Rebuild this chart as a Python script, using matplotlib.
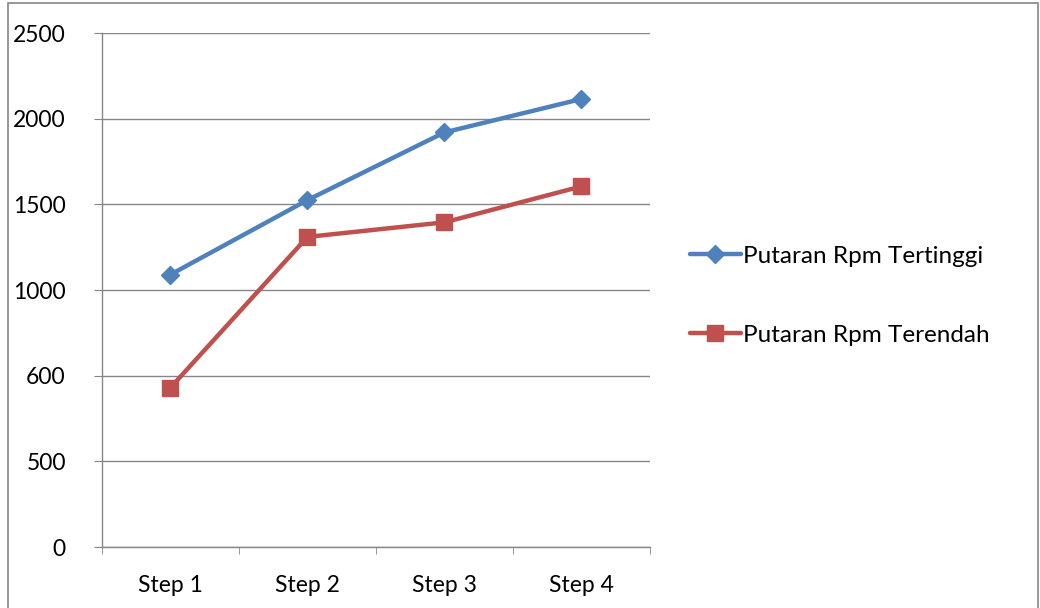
import numpy as np
import matplotlib.pyplot as plt
from matplotlib.patches import Rectangle

# ==============================
# DATA (in axis units; tick labels are as printed on the chart)
# ==============================

steps = ["Step 1", "Step 2", "Step 3", "Step 4"]
rpm_tertinggi = [1590, 2025, 2420, 2615]
rpm_terendah = [930, 1810, 1895, 2105]
y_ticks = [0, 500, 1000, 1500, 2000, 2500, 3000]
y_tick_labels = ["0", "500", "600", "1000", "1500", "2000", "2500"]

BLUE = "#4F81BD"
RED = "#C0504D"
GRID = "#868686"

plt.rcParams['font.family'] = ['Lato', 'DejaVu Sans']

fig = plt.figure(figsize=(10.4, 6.08), dpi=100)
ax = fig.add_axes([0.098, 0.1003, 0.527, 0.8454])

x = np.arange(len(steps))
ax.plot(x, rpm_tertinggi, color=BLUE, lw=3.2, marker="D", ms=9,
        label="Putaran Rpm Tertinggi", solid_capstyle="round")
ax.plot(x, rpm_terendah, color=RED, lw=3.2, marker="s", ms=12,
        label="Putaran Rpm Terendah", solid_capstyle="round")

ax.set_xlim(-0.5, len(steps) - 0.5)
ax.set_ylim(0, 3000)
ax.set_yticks(y_ticks)
ax.set_yticklabels(y_tick_labels)
ax.set_xticks(x)
ax.set_xticklabels(steps)
ax.set_xticks(np.arange(-0.5, len(steps)), minor=True)

ax.grid(axis="y", color=GRID, lw=1)
ax.set_axisbelow(True)
for side in ["top", "right"]:
    ax.spines[side].set_visible(False)
for side in ["left", "bottom"]:
    ax.spines[side].set_color(GRID)
    ax.spines[side].set_linewidth(1)

ax.tick_params(axis="x", which="major", length=0, pad=20, labelsize=16.5)
ax.tick_params(axis="x", which="minor", length=5, color=GRID, direction="out")
ax.tick_params(axis="y", length=6, color=GRID, pad=20, labelsize=16.5)

leg = fig.legend(loc="upper left", bbox_to_anchor=(0.642, 0.632), frameon=False,
                 fontsize=17.5, handlelength=2.1, handletextpad=0.1,
                 labelspacing=2.4)

# Outer chart border
fig.patches.append(Rectangle((0.008, -0.01), 0.99, 1.005, transform=fig.transFigure,
                             fill=False, edgecolor=GRID, lw=1.2))

fig.savefig("out.png", dpi=100)
